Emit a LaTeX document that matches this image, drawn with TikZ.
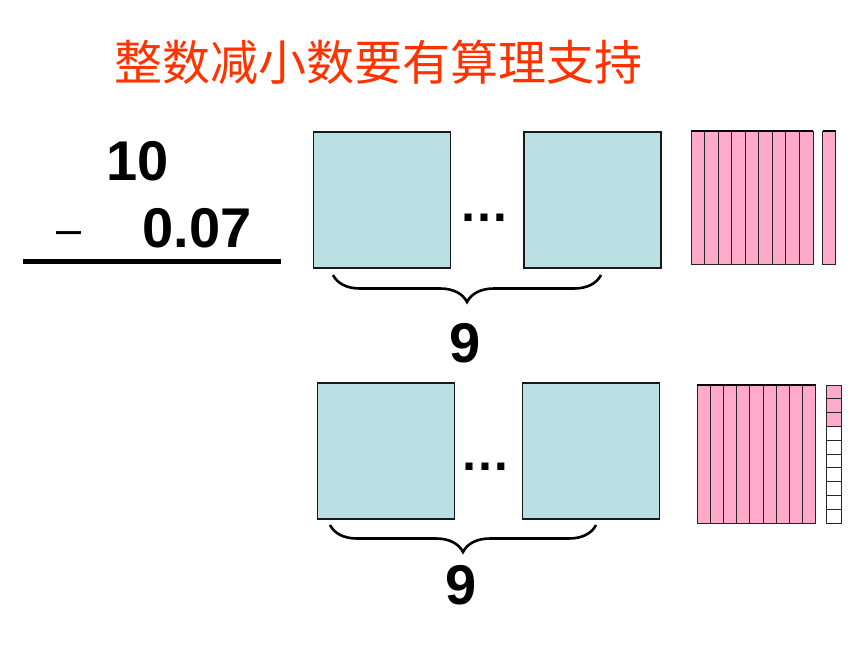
\documentclass[tikz,border=0pt]{standalone}
\usepackage{fontspec}
\setmainfont{Liberation Sans}
\newfontfamily\cjk{Noto Sans CJK SC}
\usetikzlibrary{decorations.pathreplacing}
\definecolor{titlered}{RGB}{255,51,0}
\definecolor{unitblue}{RGB}{186,224,227}
\definecolor{stripink}{RGB}{255,170,200}
\begin{document}
\begin{tikzpicture}[x=1pt,y=-1pt,
  hund/.style={draw=black!90, line width=1.5pt, fill=unitblue, minimum width=137pt, minimum height=136pt, inner sep=0pt},
  num/.style={font=\bfseries\fontsize{56}{56}\selectfont, inner sep=0pt},
  dotsnode/.style={font=\bfseries\fontsize{50}{50}\selectfont, inner sep=0pt, anchor=base},
  stripbox/.style={draw=black!85, line width=1pt, fill=stripink},
  cellbox/.style={draw=black!85, line width=1pt, fill=white},
  bracestyle/.style={draw=black, line width=2.6pt, decorate, decoration={brace, amplitude=27pt}}
]
\useasboundingbox (0,0) rectangle (860,645);
\fill[white] (0,0) rectangle (860,645);

% title
\node[font=\cjk\fontsize{48}{48}\selectfont, text=titlered, inner sep=0pt] (title) at (378,62) {整数减小数要有算理支持};

% vertical subtraction
\node[num, anchor=base east] (ten) at (169,180) {10};
\node[num, anchor=base east] (sub) at (252,247) {0.07};
\node[font=\fontsize{45}{45}\selectfont, inner sep=0pt, anchor=base] (minus) at (69,244) {–};
\coordinate (ulL) at (23,261);
\coordinate (ulR) at (281,261);
\draw[line width=5pt] (ulL) -- (ulR);

% top row of hundreds
\node[hund] (tA) at (382,200) {};
\node[hund] (tB) at (592.5,200) {};
\node[dotsnode] (tdots) at (484.5,221.5) {…};
\coordinate (tbL) at (333,275);
\coordinate (tbR) at (601,275);
\draw[bracestyle] (tbR) -- (tbL);
\node[num, anchor=base] (tnine) at (465.5,362) {9};

% bottom row of hundreds
\node[hund] (bA) at (386,451) {};
\node[hund] (bB) at (591,451) {};
\node[dotsnode] (bdots) at (485.5,470.5) {…};
\coordinate (bbL) at (330,525);
\coordinate (bbR) at (596,525);
\draw[bracestyle] (bbR) -- (bbL);
\node[num, anchor=base] (bnine) at (461,604) {9};

% top tens strips
\foreach \i in {0,...,8}
  \draw[stripbox] ({691+\i*13.56},131) rectangle ++(13.56,133);
\draw[line width=1.8pt] (691,131) -- (813,131);
\draw[stripbox] (822.5,131) rectangle (835.5,264);
\draw[line width=1.8pt] (822.5,131) -- (835.5,131);

% bottom tens strips
\foreach \i in {0,...,8}
  \draw[stripbox] ({697+\i*13.22},385) rectangle ++(13.22,138);
\draw[line width=1.8pt] (697,385) -- (816,385);
\foreach \j in {0,...,9}
  \draw[cellbox] (826,{385+\j*13.8}) rectangle ++(15,13.8);
\foreach \j in {0,...,2}
  \draw[stripbox] (826,{385+\j*13.8}) rectangle ++(15,13.8);
\end{tikzpicture}
\end{document}
